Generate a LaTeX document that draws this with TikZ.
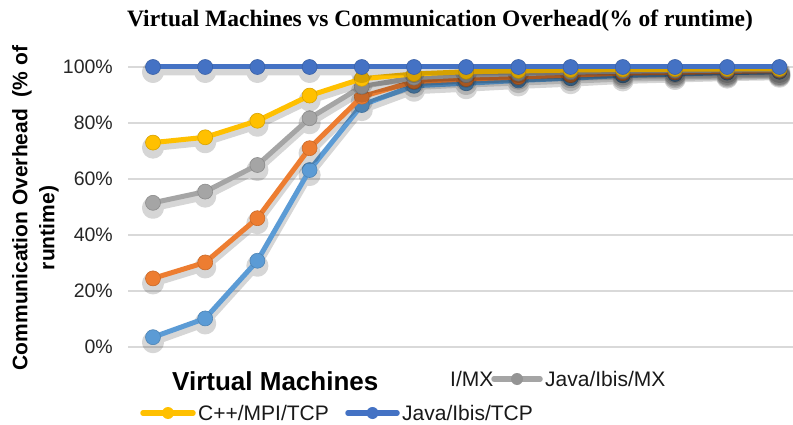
\documentclass[tikz,border=0pt]{standalone}
\usepackage{fontspec}
\usetikzlibrary{calc}
\setmainfont{Liberation Serif}
\newfontfamily\arialfont{Liberation Sans}
\definecolor{cdkblue}{HTML}{4472C4}
\definecolor{cyellow}{HTML}{FFC000}
\definecolor{cgray}{HTML}{A5A5A5}
\definecolor{corange}{HTML}{ED7D31}
\definecolor{cltblue}{HTML}{5B9BD5}
\definecolor{gridgray}{HTML}{D9D9D9}
\tikzset{
  gridline/.style={draw=gridgray, line width=1.5pt},
  ticklabel/.style={anchor=east, inner sep=0pt, font=\arialfont\fontsize{19.5}{20}\selectfont, text=black!85},
  legendtext/.style={anchor=west, inner sep=0pt, font=\arialfont\fontsize{21}{22}\selectfont, text=black!90},
  shadowline/.style={draw=black, line width=7pt, line join=round},
  serline/.style={draw=#1, line width=5pt, line join=round, mark=*, mark size=7.5pt,
    mark options={fill=#1, draw=#1!85!black, line width=0.6pt}},
  legline/.style={draw=#1, line width=5.5pt, line cap=round},
}
% one series: a soft drop shadow (drawn as one transparent group), then the line with markers
\newcommand\plotseries[2]{%
  \begin{scope}[transparency group, opacity=0.16]
    \draw[shadowline, yshift=-5pt, mark=*, mark size=7.5pt, mark options={fill=black, draw=none}] plot coordinates {#2};
  \end{scope}
  \draw[serline=#1] plot coordinates {#2};
}
\begin{document}
\begin{tikzpicture}[x=1pt, y=-1pt]
  \useasboundingbox[fill=white] (0,0) rectangle (793,425);

  % title
  \node[font=\bfseries\fontsize{23.5}{24}\selectfont, inner sep=0pt] (title) at (440,21)
    {Virtual Machines vs Communication Overhead(\% of runtime)};

  % horizontal grid and value labels
  \foreach \v/\lab in {0/0\%, 20/20\%, 40/40\%, 60/60\%, 80/80\%, 100/100\%} {
    \draw[gridline] (128,{347-2.8*\v}) -- (793,{347-2.8*\v});
    \node[ticklabel] at (113,{347-2.8*\v}) {\lab};
  }

  % vertical axis title
  \node[rotate=90, inner sep=0pt, font=\arialfont\bfseries\fontsize{21}{22}\selectfont] (ytitle1) at (22,208)
    {Communication Overhead\ \ (\% of};
  \node[rotate=90, inner sep=0pt, font=\arialfont\bfseries\fontsize{21}{22}\selectfont] (ytitle2) at (49,228)
    {runtime)};

  % data series
  \begin{scope}[shift={(100.8,347)}, x=52.2pt, y=2.8pt]
    \plotseries{cltblue}{(1,3.5) (2,10.2) (3,30.8) (4,63.2) (5,86.4) (6,93.3) (7,94.2) (8,95.2) (9,96) (10,97) (11,97.5) (12,98) (13,98.3)}
    \plotseries{corange}{(1,24.5) (2,30.2) (3,46) (4,71) (5,89.4) (6,94.8) (7,95.7) (8,96.4) (9,97.1) (10,97.8) (11,98.1) (12,98.4) (13,98.7)}
    \plotseries{cgray}{(1,51.5) (2,55.5) (3,65) (4,81.7) (5,93) (6,96.2) (7,97.1) (8,97.6) (9,98.1) (10,98.5) (11,98.7) (12,98.9) (13,99)}
    \plotseries{cyellow}{(1,73) (2,74.9) (3,80.8) (4,89.8) (5,95.8) (6,97.5) (7,98.3) (8,98.6) (9,98.9) (10,99.1) (11,99.2) (12,99.3) (13,99.3)}
    \plotseries{cdkblue}{(1,100) (2,100) (3,100) (4,100) (5,100) (6,100) (7,100) (8,100) (9,100) (10,100) (11,100) (12,100) (13,100)}
  \end{scope}

  % horizontal axis title
  \node[anchor=west, inner sep=0pt, font=\arialfont\bfseries\fontsize{26}{27}\selectfont] (xtitle) at (172,381)
    {Virtual Machines};

  % legend
  \node[legendtext] (legA) at (450,379) {I/MX};
  \coordinate (lgB1) at (494,379);
  \coordinate (lgB2) at (540,379);
  \draw[legline=cgray] (lgB1) -- (lgB2);
  \fill[cgray!90!black] ($(lgB1)!0.5!(lgB2)$) circle (6pt);
  \node[legendtext] (legB) at (545,379) {Java/Ibis/MX};

  \coordinate (lgC1) at (143,413);
  \coordinate (lgC2) at (193,413);
  \draw[legline=cyellow] (lgC1) -- (lgC2);
  \fill[cyellow] ($(lgC1)!0.5!(lgC2)$) circle (6pt);
  \node[legendtext] (legC) at (198,413) {C++/MPI/TCP};

  \coordinate (lgD1) at (348,413);
  \coordinate (lgD2) at (397,413);
  \draw[legline=cdkblue] (lgD1) -- (lgD2);
  \fill[cdkblue] ($(lgD1)!0.5!(lgD2)$) circle (6pt);
  \node[legendtext] (legD) at (402,413) {Java/Ibis/TCP};
\end{tikzpicture}
\end{document}
